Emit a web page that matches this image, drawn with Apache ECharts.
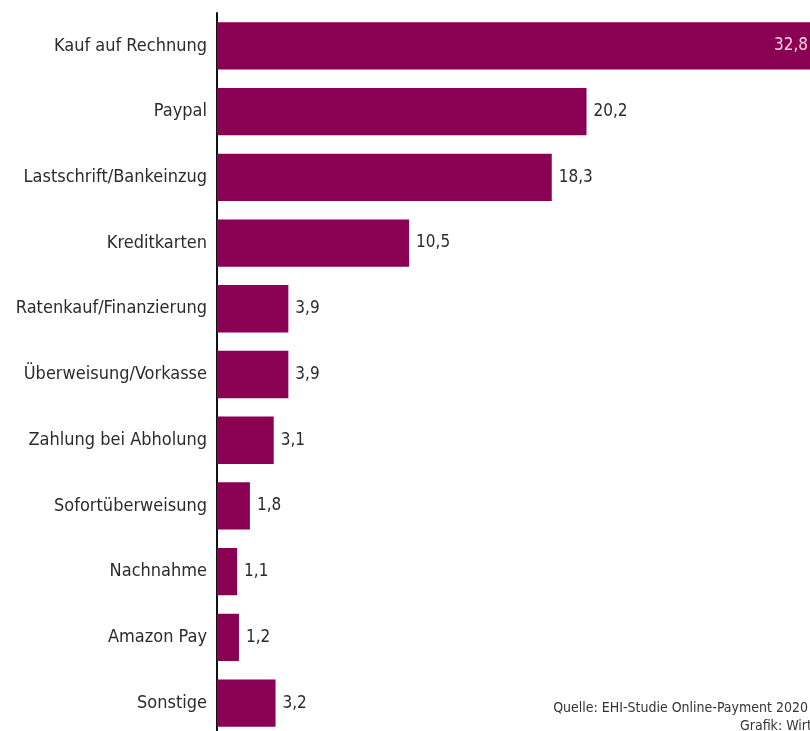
<!DOCTYPE html>
<html lang="de">
  <head>
    <meta charset="UTF-8" />
    <title>Zahlungsarten</title>
    <style>
      html,
      body {
        margin: 0;
        padding: 0;
        background: #fff;
      }
      #main {
        width: 810px;
        height: 731px;
      }
    </style>
  </head>
  <body>
    <div id="main"></div>
    <script src="https://cdn.jsdelivr.net/npm/echarts@6.0.0/dist/echarts.min.js"></script>
    <script>
      // Anteile am Umsatz in Prozent
      const categories = [
        "Kauf auf Rechnung",
        "Paypal",
        "Lastschrift/Bankeinzug",
        "Kreditkarten",
        "Ratenkauf/Finanzierung",
        "Überweisung/Vorkasse",
        "Zahlung bei Abholung",
        "Sofortüberweisung",
        "Nachnahme",
        "Amazon Pay",
        "Sonstige",
      ];
      const values = [32.8, 20.2, 18.3, 10.5, 3.9, 3.9, 3.1, 1.8, 1.1, 1.2, 3.2];

      const font = "'DejaVu Sans Condensed', 'Liberation Sans Narrow', sans-serif";
      const barColor = "#8a0052";
      const fmt = (v) => String(v).replace(".", ",");

      const chart = echarts.init(document.getElementById("main"));
      const option = {
        animation: false,
        grid: {
          left: 217,
          width: 600,
          top: 13,
          height: 723,
          outerBoundsMode: "none",
        },
        xAxis: {
          type: "value",
          min: 0,
          max: 32.8,
          show: false,
        },
        yAxis: {
          type: "category",
          data: categories,
          inverse: true,
          axisLine: { show: true, lineStyle: { color: "#111", width: 2 } },
          axisTick: { show: false },
          axisLabel: {
            margin: 10,
            color: "#2b2b2b",
            fontFamily: font,
            fontSize: 18,
          },
        },
        series: [
          {
            type: "bar",
            data: values.map((v, i) =>
              i === 0
                ? {
                    value: v,
                    label: {
                      position: "insideRight",
                      distance: 9,
                      color: "#f3d6e4",
                    },
                  }
                : v
            ),
            barCategoryGap: "28%",
            itemStyle: { color: barColor },
            label: {
              show: true,
              position: "right",
              distance: 7,
              color: "#2b2b2b",
              fontFamily: font,
              fontSize: 17,
              formatter: (p) => fmt(p.value),
            },
          },
        ],
        graphic: [
          {
            type: "text",
            right: 2,
            top: 701,
            style: {
              text: "Quelle: EHI-Studie Online-Payment 2020",
              fill: "#333",
              font: "14px " + font,
            },
          },
          {
            type: "text",
            left: 740,
            top: 719,
            style: {
              text: "Grafik: Wirtschaftswoche",
              fill: "#333",
              font: "14px " + font,
            },
          },
        ],
      };
      chart.setOption(option);
    </script>
  </body>
</html>
